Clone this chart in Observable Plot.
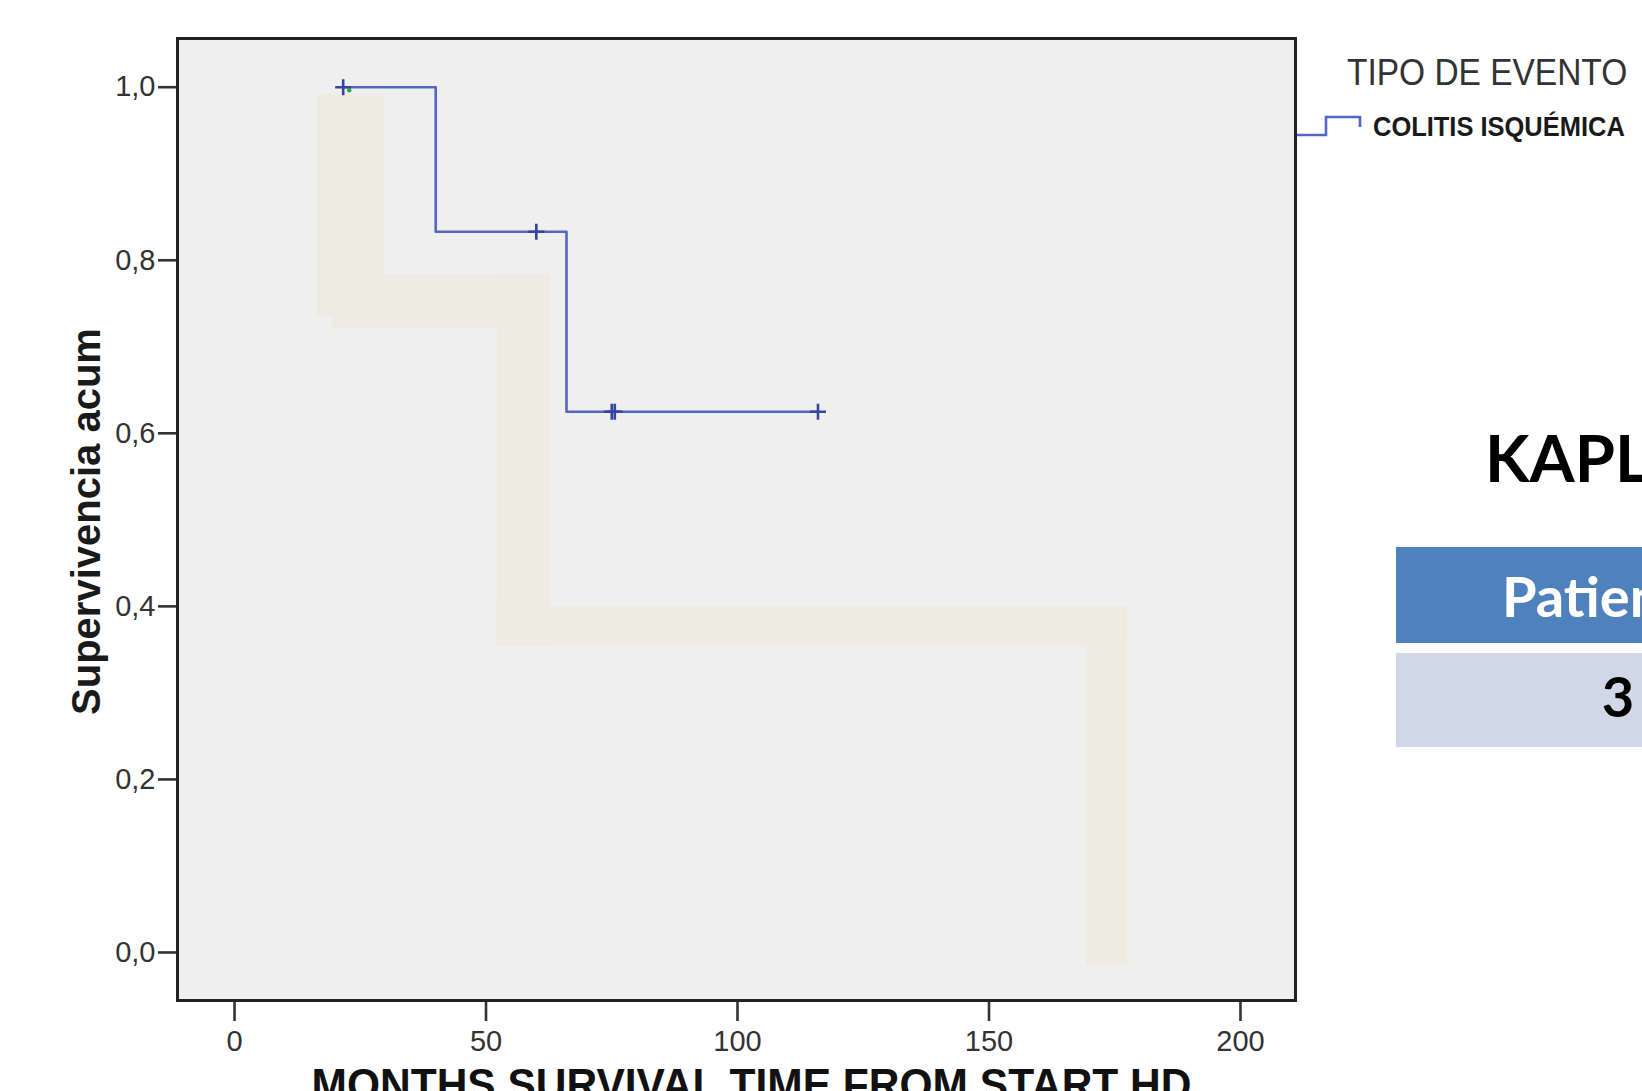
<!DOCTYPE html>
<html>
<head>
<meta charset="utf-8">
<script src="https://cdn.jsdelivr.net/npm/d3@7"></script>
<script src="https://cdn.jsdelivr.net/npm/@observablehq/plot@0.6"></script>
<style>
  html, body { margin: 0; padding: 0; background: #fff; overflow: hidden; width: 1642px; height: 1091px; }
  #wrap { position: relative; width: 1642px; height: 1091px; overflow: hidden; }
  #overlay { position: absolute; left: 0; top: 0; pointer-events: none; }
</style>
</head>
<body>
<div id="wrap"></div>
<script>
// ---- data ----
const kmTime = [21.6, 40, 66, 116];
const kmSurv = [1.0, 0.833, 0.625, 0.625];
const censorTime = [21.6, 60, 75, 75.6, 116];
const censorSurv = [1.0, 0.833, 0.625, 0.625, 0.625];
const greenTime = [22.8];
const greenSurv = [0.9965];
const bandX1 = [16.5, 19.4, 52.2, 52.2, 169.3];
const bandX2 = [29.8, 62.7, 62.7, 177.5, 177.5];
const bandY1 = [0.992, 0.783, 0.783, 0.399, 0.399];
const bandY2 = [0.736, 0.721, 0.355, 0.355, -0.015];
const xTicks = [0, 50, 100, 150, 200];
const yTicks = [0, 0.2, 0.4, 0.6, 0.8, 1.0];
const xTitle = "MONTHS SURVIVAL TIME FROM START HD";
const yTitle = "Supervivencia acum";
const legendTitle = "TIPO DE EVENTO";
const legendItem = "COLITIS ISQUÉMICA";
const slideTitle = "KAPLAN-MEIER";
const tableHeader = "Patients";
const tableValue = "3";

// ---- tables built from the arrays ----
const km = kmTime.map((t, i) => ({t, s: kmSurv[i]}));
const censors = censorTime.map((t, i) => ({t, s: censorSurv[i]}));
const greens = greenTime.map((t, i) => ({t, s: greenSurv[i]}));
const band = bandX1.map((x1, i) => ({x1, x2: bandX2[i], y1: bandY1[i], y2: bandY2[i]}));

const plusSymbol = {
  draw(context, size) {
    const r = Math.sqrt(size / Math.PI);
    context.moveTo(-r, 0); context.lineTo(r, 0);
    context.moveTo(0, -r); context.lineTo(0, r);
  }
};

const fontFam = "'Liberation Sans', Arial, sans-serif";

const chart = Plot.plot({
  width: 1642,
  height: 1091,
  marginLeft: 177,
  marginRight: 347,
  marginTop: 38,
  marginBottom: 91,
  style: { fontFamily: fontFam, background: "white", overflow: "visible" },
  x: { domain: [-11.34, 210.94] },
  y: { domain: [-0.0555, 1.0563] },
  marks: [
    Plot.frame({ fill: "#efefef" }),
    Plot.rect(band, { x1: "x1", x2: "x2", y1: "y1", y2: "y2", fill: "#eeebe1" }),
    Plot.line(km, { x: "t", y: "s", curve: "step-after", stroke: "#5466c2", strokeWidth: 2.6 }),
    Plot.dot(censors, { x: "t", y: "s", symbol: plusSymbol, r: 8, stroke: "#34449f", strokeWidth: 2.6, fill: "none" }),
    Plot.dot(greens, { x: "t", y: "s", r: 2.2, fill: "#2fa83a", stroke: "none" }),
    Plot.axisY({
      ticks: yTicks, tickSize: 19, tickPadding: 3, fontSize: 29, color: "#333",
      strokeWidth: 2.6, label: null,
      tickFormat: d => d.toFixed(1).replace(".", ",")
    }),
    Plot.axisX({
      ticks: xTicks, tickSize: 21, tickPadding: 9, fontSize: 29, color: "#333",
      strokeWidth: 2.6, label: null, tickFormat: d => String(d)
    }),
    Plot.text([yTitle], {
      frameAnchor: "left", rotate: -90, dx: -78, dy: 2, lineAnchor: "bottom",
      textAnchor: "middle", fontSize: 40, fontWeight: "bold", fill: "#1a1a1a"
    }),
    Plot.text([xTitle], {
      frameAnchor: "bottom", dx: 15, dy: 99, lineAnchor: "bottom",
      textAnchor: "middle", fontSize: 44, fontWeight: "bold", fill: "#111"
    }),
    Plot.frame({ stroke: "#222", strokeWidth: 3 })
  ]
});

document.getElementById("wrap").appendChild(chart);

// stretch the x title to the reference width
d3.select(chart).selectAll("text").filter(function () { return this.textContent === xTitle; })
  .attr("textLength", 880).attr("lengthAdjust", "spacingAndGlyphs");

// ---- overlay: legend, slide title and table fragment ----
const ov = d3.select("#wrap").append("svg")
  .attr("id", "overlay").attr("width", 1642).attr("height", 1091);

ov.append("text").attr("transform", "translate(1347,85) scale(0.905,1)")
  .attr("font-family", fontFam).attr("font-size", 37).attr("fill", "#333")
  .text(legendTitle);

ov.append("path")
  .attr("d", "M1297,135H1326V117H1360V127")
  .attr("fill", "none").attr("stroke", "#5466c2").attr("stroke-width", 2.6);

ov.append("text").attr("transform", "translate(1373,136) scale(0.91,1)")
  .attr("font-family", fontFam).attr("font-weight", "bold").attr("font-size", 28).attr("fill", "#1a1a1a")
  .text(legendItem);

ov.append("text").attr("x", 1485).attr("y", 482)
  .attr("font-family", "Lato, 'Open Sans', sans-serif").attr("font-weight", "bold")
  .attr("font-size", 65).attr("fill", "#000")
  .text(slideTitle);

ov.append("rect").attr("x", 1396).attr("y", 547).attr("width", 420).attr("height", 96).attr("fill", "#4f81bd");
ov.append("rect").attr("x", 1396).attr("y", 653).attr("width", 420).attr("height", 94).attr("fill", "#d0d8e8");

ov.append("text").attr("x", 1502).attr("y", 617)
  .attr("font-family", "Lato, 'Open Sans', sans-serif").attr("font-weight", "bold")
  .attr("font-size", 56).attr("fill", "#fff")
  .text(tableHeader);

ov.append("text").attr("x", 1618).attr("y", 717).attr("text-anchor", "middle")
  .attr("font-family", "Lato, 'Open Sans', sans-serif").attr("font-weight", "bold")
  .attr("font-size", 56).attr("fill", "#000")
  .text(tableValue);
</script>
</body>
</html>
